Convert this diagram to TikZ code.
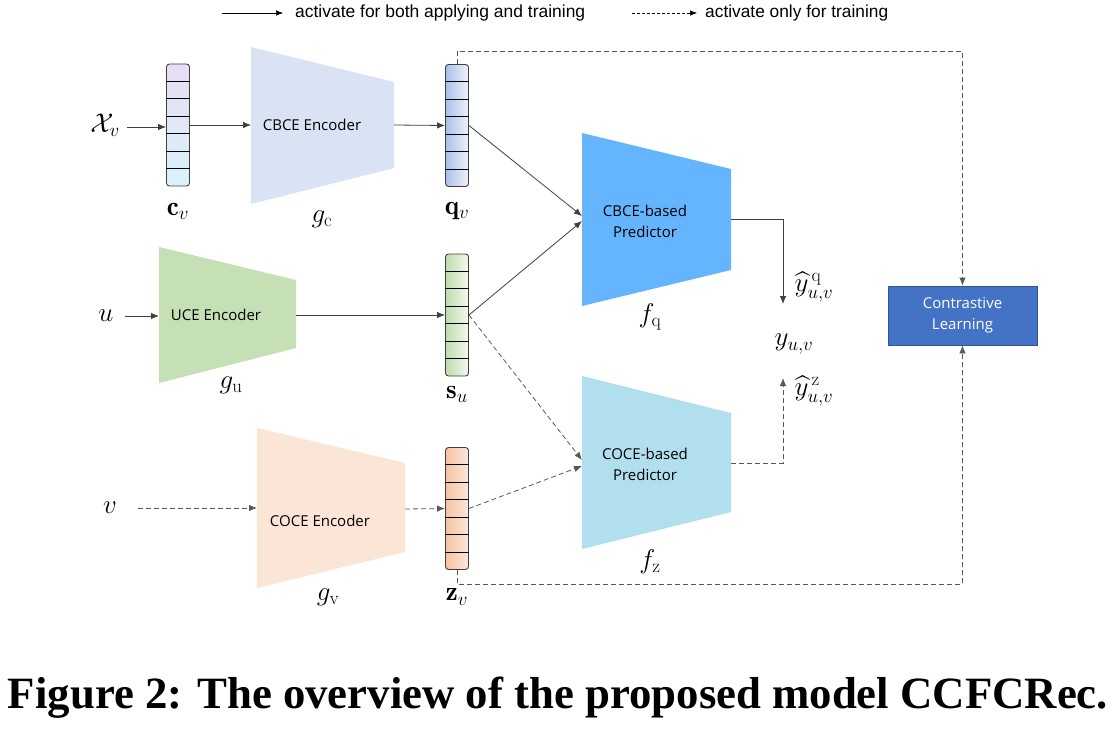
\RequirePackage{fix-cm}
\documentclass[tikz,border=0pt]{standalone}
\usepackage{amsmath,amssymb}
\usepackage{graphicx}
\usepackage{fontspec}
\usetikzlibrary{arrows.meta,calc}
\newfontfamily\diagfont{Open Sans}
\newfontfamily\legfont{Liberation Sans}
\newfontfamily\capfont{Liberation Serif}
\definecolor{cvtop}{HTML}{E6DDF4}
\definecolor{cvbot}{HTML}{DAF3FA}
\definecolor{qvl}{HTML}{ABC0E6}
\definecolor{qvr}{HTML}{EEF2FA}
\definecolor{sul}{HTML}{BFDCAB}
\definecolor{sur}{HTML}{F2F8EE}
\definecolor{zvl}{HTML}{F6C1A0}
\definecolor{zvr}{HTML}{FBE8DC}
\definecolor{gcfill}{HTML}{DAE3F3}
\definecolor{gufill}{HTML}{C5E0B4}
\definecolor{gvfill}{HTML}{FBE5D6}
\definecolor{fqfill}{HTML}{64B5FE}
\definecolor{fzfill}{HTML}{B1DFEE}
\definecolor{clfill}{HTML}{4472C4}
\definecolor{cldraw}{HTML}{2F5597}
\definecolor{linecol}{HTML}{404040}
\definecolor{dashcol}{HTML}{595959}
\tikzset{
  vec/.style={draw=black!75, rounded corners=3pt, minimum width=23pt, minimum height=122pt, inner sep=0pt, line width=0.9pt},
  arr/.style={draw=linecol, line width=0.8pt, -{Latex[length=8pt,width=6.5pt]}},
  darr/.style={draw=dashcol, line width=0.8pt, dash pattern=on 5pt off 3pt, -{Latex[length=8pt,width=6.5pt]}},
  mlab/.style={inner sep=1pt, font=\fontsize{27}{31}\selectfont},
  boxtxt/.style={font=\diagfont\fontsize{15}{21}\selectfont, align=center, inner sep=0pt},
  legtxt/.style={font=\legfont\fontsize{17}{19}\selectfont, anchor=west, inner sep=0pt},
}
\newcommand{\cells}[1]{\foreach \k in {1,...,6}{\draw[black, line width=0.8pt] ($(#1.north west)!\k/7!(#1.south west)$) -- ($(#1.north east)!\k/7!(#1.south east)$);}}
\begin{document}
\begin{tikzpicture}[x=1pt,y=-1pt]
\useasboundingbox[fill=white] (0,0) rectangle (1119,733);

% legend
\coordinate (l1a) at (222,13); \coordinate (l1b) at (283,13);
\coordinate (l2a) at (632,13); \coordinate (l2b) at (697,13);
\draw[black, line width=0.6pt, -{Latex[length=7pt,width=5.5pt]}] (l1a) -- (l1b);
\node[legtxt] (leg1) at (295,13) {\resizebox{290pt}{!}{activate for both applying and training}};
\draw[black, line width=0.6pt, dash pattern=on 3pt off 2pt, -{Latex[length=7pt,width=5.5pt]}] (l2a) -- (l2b);
\node[legtxt] (leg2) at (705,13) {\resizebox{183pt}{!}{activate only for training}};

% trapezoids
\fill[gcfill] (251,47) -- (394,82) -- (394,168) -- (251,204) -- cycle;
\fill[gufill] (159,247) -- (296,280) -- (296,348) -- (159,383) -- cycle;
\fill[gvfill] (257,428) -- (405,463) -- (405,552) -- (257,588) -- cycle;
\fill[fqfill] (582,133) -- (731,169) -- (731,270) -- (582,306) -- cycle;
\fill[fzfill] (582,376) -- (731,413) -- (731,512) -- (582,549) -- cycle;
\coordinate (gcL) at (251,125); \coordinate (gcR) at (394,125);
\coordinate (guL) at (159,315); \coordinate (guR) at (296,315);
\coordinate (gvL) at (257,509); \coordinate (gvR) at (405,509);
\coordinate (fqL1) at (582,216); \coordinate (fqL2) at (582,221);
\coordinate (fzL1) at (582,460); \coordinate (fzL2) at (582,466);
\coordinate (fqR) at (731,219); \coordinate (fzR) at (731,463);
\coordinate (yqend) at (783,304); \coordinate (yzend) at (783,378);

\node[boxtxt] (gctxt) at (312,125) {CBCE Encoder};
\node[boxtxt] (gutxt) at (216,315) {UCE Encoder};
\node[boxtxt] (gvtxt) at (320,521) {COCE Encoder};
\node[boxtxt] (fqtxt) at (645,221) {CBCE-based\\Predictor};
\node[boxtxt] (fztxt) at (645,464) {COCE-based\\Predictor};

% vectors
\node[vec, top color=cvtop, bottom color=cvbot] (cv) at (178,125) {};
\node[vec, left color=qvl, right color=qvr] (qv) at (457,125.5) {};
\node[vec, left color=sul, right color=sur] (su) at (457,315) {};
\node[vec, left color=zvl, right color=zvr] (zv) at (457,508.5) {};
\cells{cv}\cells{qv}\cells{su}\cells{zv}

% contrastive learning
\node[draw=cldraw, fill=clfill, line width=0.8pt, minimum width=149pt, minimum height=59pt, boxtxt, text=white] (cl) at (962.5,315.5) {Contrastive\\Learning};

% math labels
\node[mlab] (Xv) at (105,125) {$\mathcal{X}_v$};
\node[mlab] (uin) at (106,316) {$u$};
\node[mlab] (vin) at (110,508) {$v$};
\node[mlab] (cvl) at (178,211) {$\mathbf{c}_v$};
\node[mlab] (gcl) at (322,219) {$g_{\mathrm{c}}$};
\node[mlab] (qvl) at (457,211) {$\mathbf{q}_v$};
\node[mlab] (gul) at (231,385) {$g_{\mathrm{u}}$};
\node[mlab] (sul) at (457,394) {$\mathbf{s}_u$};
\node[mlab] (gvl) at (328,597) {$g_{\mathrm{v}}$};
\node[mlab] (zvl) at (457,597) {$\mathbf{z}_v$};
\node[mlab] (fql) at (650,317) {$f_{\mathrm{q}}$};
\node[mlab] (fzl) at (650,562) {$f_{\mathrm{z}}$};
\node[mlab] (yq) at (814,287) {$\widehat{y}^{\,\mathrm{q}}_{u,v}$};
\node[mlab] (yuv) at (794,344) {$y_{u,v}$};
\node[mlab] (yz) at (814,391) {$\widehat{y}^{\,\mathrm{z}}_{u,v}$};

% connectors
\draw[arr] (Xv.east) ++(6,2) coordinate (xs) -- (xs -| cv.west);
\draw[arr] (cv.east) -- (gcL);
\draw[arr] (gcR) -- (qv.west);
\draw[arr] (uin.east) ++(10,0) coordinate (us) -- (us -| guL);
\draw[arr] (guR) -- (su.west);
\draw[darr] (vin.east) ++(20,0) coordinate (vs) -- (vs -| gvL);
\draw[darr] (gvR) -- (zv.west);
\draw[arr] (qv.east) -- (fqL1);
\draw[arr] (su.east) -- (fqL2);
\draw[darr] (su.east) -- (fzL1);
\draw[darr] (zv.east) -- (fzL2);
\draw[arr] (fqR) -| (yqend);
\draw[darr] (fzR) -| (yzend);
\draw[darr] (qv.north) -- ++(0,-13) -| (cl.north);
\draw[darr] (zv.south) -- ++(0,14) -| (cl.south);

% caption
\node[anchor=base, inner sep=0pt] (cap) at (558,708) {\resizebox{1100pt}{!}{\capfont\bfseries\fontsize{40}{44}\selectfont Figure 2: The overview of the proposed model CCFCRec.}};
\end{tikzpicture}
\end{document}
